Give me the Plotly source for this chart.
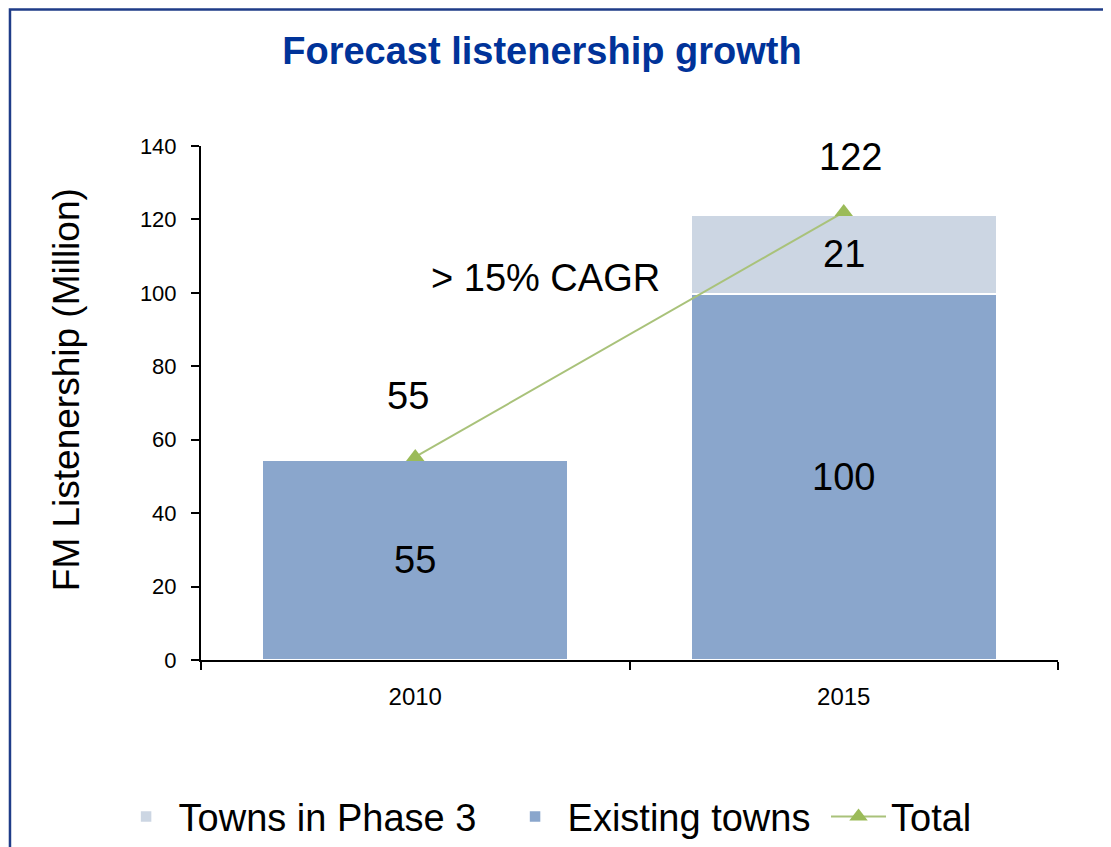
import plotly.graph_objects as go

years = ["2010", "2015"]
existing = [54.5, 99.7]
phase3 = [None, 21.5]
total = [55.3, 122]
existing_labels = ["55", "100"]
phase3_labels = ["", "21"]
total_labels = ["55", "122"]
y_ticks = [0, 20, 40, 60, 80, 100, 120, 140]

c_exist = "#8AA6CC"
c_phase = "#CCD6E3"
c_line = "#A9C27A"
c_marker = "#9BBB59"
sans = "Liberation Sans, Arial, sans-serif"
nb = "\u00a0"

fig = go.Figure()
fig.add_trace(go.Bar(x=years, y=existing, name="Existing towns" + nb,
                     marker=dict(color=c_exist, line=dict(color="white", width=1.5)), legendrank=2))
fig.add_trace(go.Bar(x=years, y=phase3, name="Towns in Phase 3" + nb * 2,
                     marker=dict(color=c_phase, line=dict(color="white", width=1.5)), legendrank=1))
fig.add_trace(go.Scatter(x=years, y=total, name="Total", mode="lines+markers",
                         line=dict(color=c_line, width=2),
                         marker=dict(symbol="triangle-up", size=16, color=c_marker),
                         legendrank=3))

lab_font = dict(size=38, color="black", family=sans)
ann = []
for i in range(len(years)):
    ann.append(dict(x=i, y=existing[i] / 2, text=existing_labels[i], showarrow=False, font=lab_font))
    if phase3[i]:
        ann.append(dict(x=i, y=existing[i] + phase3[i] / 2, text=phase3_labels[i], showarrow=False, font=lab_font))
ann.append(dict(x=-0.016, y=total[0] + 16.5, text=total_labels[0], showarrow=False, font=lab_font))
ann.append(dict(x=1.015, y=total[1] + 15, text=total_labels[1], showarrow=False, font=lab_font))
ann.append(dict(x=0.305, y=104, text="> 15% CAGR", showarrow=False, font=lab_font))
ann.append(dict(xref="paper", yref="paper", x=-0.1575, y=0.525, xanchor="center", yanchor="middle",
                text="FM Listenership (Million)", textangle=-90, showarrow=False,
                font=dict(size=37, color="black", family=sans)))

fig.update_layout(
    width=1111, height=847,
    margin=dict(l=193, r=61, t=138, b=195, autoexpand=False),
    paper_bgcolor="white", plot_bgcolor="white",
    barmode="stack", bargap=0.288,
    title=dict(text="<b>Forecast listenership growth</b>", x=0.4806, xanchor="center", y=0.949, yanchor="middle",
               font=dict(size=38, color="#003399", family=sans)),
    xaxis=dict(type="category", range=[-0.5, 1.5], automargin=False, showline=True, linecolor="black",
               linewidth=2, ticks="outside", tickson="boundaries", ticklen=8, tickcolor="black", tickwidth=1.5,
               ticklabelstandoff=14,
               tickfont=dict(size=24, color="black", family=sans), showgrid=False),
    yaxis=dict(range=[0, 140], tickvals=y_ticks, automargin=False, showline=True, linecolor="black", linewidth=2,
               ticks="outside", ticklen=8, tickcolor="black", tickwidth=1.5, showgrid=False, zeroline=False,
               ticklabelstandoff=10,
               tickfont=dict(size=22, color="black", family=sans)),
    legend=dict(orientation="h", x=-0.102, xanchor="left", y=-0.305, yanchor="middle", traceorder="normal",
                font=dict(size=38, color="black", family=sans), itemwidth=55),
    annotations=ann,
    shapes=[dict(type="rect", xref="paper", yref="paper", x0=-0.2229, x1=1.1, y0=-0.4, y1=1.2655,
                 line=dict(color="#1F3C88", width=2.5))],
)

fig.write_html("out.html")
